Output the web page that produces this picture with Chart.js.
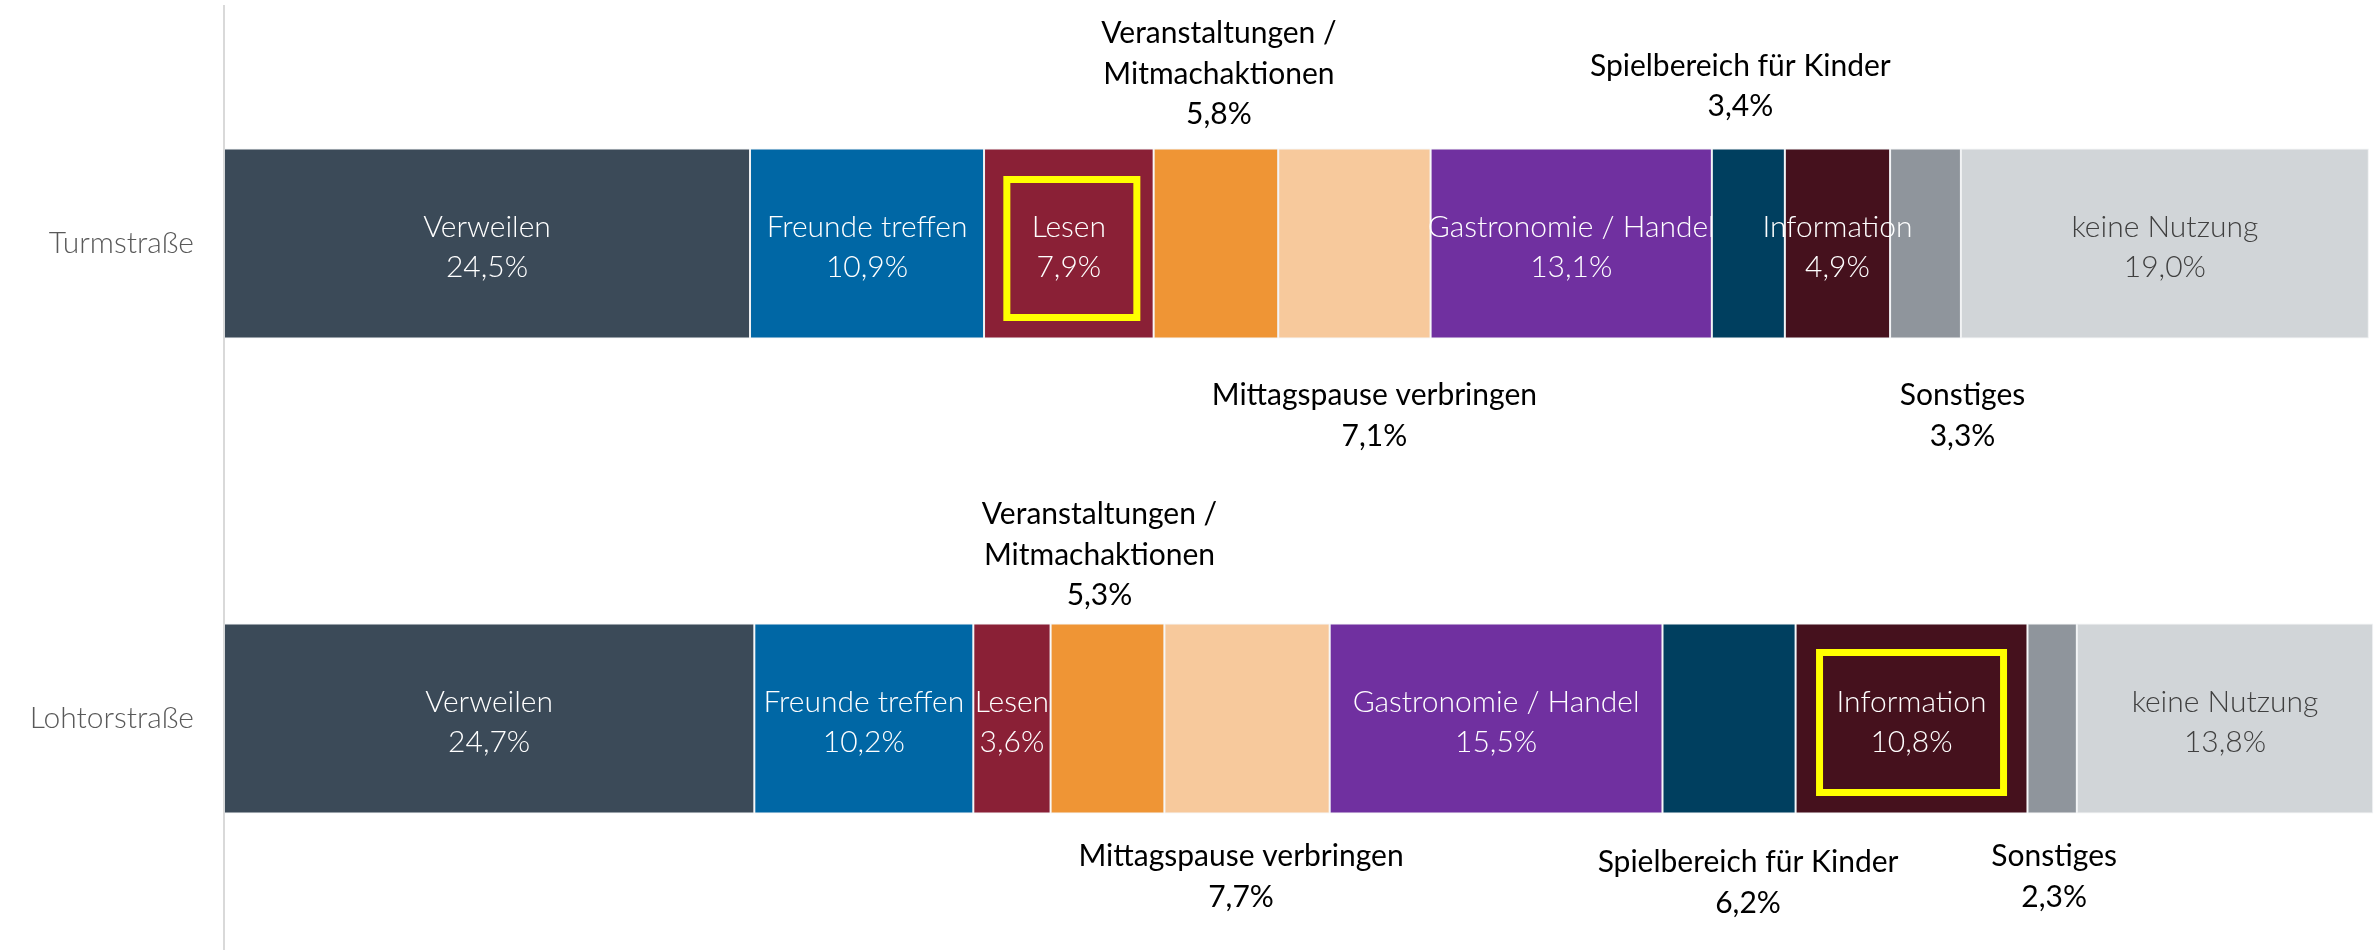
<!DOCTYPE html>
<html>
<head>
<meta charset="utf-8">
<script src="https://cdn.jsdelivr.net/npm/chart.js@4/dist/chart.umd.min.js"></script>
<style>
  html, body { margin: 0; padding: 0; background: #ffffff; overflow: hidden; }
  #wrap { width: 2380px; height: 956px; }
</style>
</head>
<body>
<div id="wrap"><canvas id="c" width="2380" height="956"></canvas></div>
<script>
// ---- data ----
const categories = ['Turmstraße', 'Lohtorstraße'];
const seriesNames = [
  'Verweilen',
  'Freunde treffen',
  'Lesen',
  'Veranstaltungen / Mitmachaktionen',
  'Mittagspause verbringen',
  'Gastronomie / Handel',
  'Spielbereich für Kinder',
  'Information',
  'Sonstiges',
  'keine Nutzung'
];
const turmstrasse  = [24.5, 10.9, 7.9, 5.8, 7.1, 13.1, 3.4, 4.9, 3.3, 19.0];
const lohtorstrasse = [24.7, 10.2, 3.6, 5.3, 7.7, 15.5, 6.2, 10.8, 2.3, 13.8];

// ---- styles ----
const seriesColors = ['#3B4A58', '#0067A5', '#8A2036', '#EF9535', '#F7C99C',
                      '#7030A0', '#003F5F', '#45111D', '#8F959C', '#D1D5D8'];
const insideTextColors = ['#ffffff', '#ffffff', '#ffffff', '#ffffff', '#ffffff',
                          '#ffffff', '#ffffff', '#ffffff', '#ffffff', '#404040'];
// label placement per category (index) per series: [mode, dx, gap]
const placementTurm = [
  ['in', 0, 0], ['in', 0, 0], ['in', 0, 0], ['above', 3, 38], ['below', 20, 53],
  ['in', 0, 0], ['above', -8, 46], ['in', 0, 0], ['below', 37, 53], ['in', 0, 0]
];
const placementLoht = [
  ['in', 0, 0], ['in', 0, 0], ['in', 0, 0], ['above', -8, 32], ['below', -6, 39],
  ['in', 0, 0], ['below', 19, 45], ['in', 0, 0], ['below', 2, 39], ['in', 0, 0]
];
const placements = [placementTurm, placementLoht];
const highlights = [
  { series: 2, cat: 0, w: 130, h: 138, dx: 3, dy: 5 },
  { series: 7, cat: 1, w: 184, h: 140, dx: 0, dy: 4 }
];

const FONT = 'Lato';
const FONT_SIZE = 30;
const LINE_H = 40.5;
const TEXT_DY = 4;

function fmt(v) { return v.toFixed(1).replace('.', ',') + '%'; }
function nameLines(name, mode) {
  if (mode !== 'in' && name.indexOf(' / ') > 0 && name.length > 25) {
    const p = name.split(' / ');
    return [p[0] + ' /', p[1]];
  }
  return [name];
}

const catValues = [turmstrasse, lohtorstrasse];
const datasets = seriesNames.map((name, i) => ({
  label: name,
  data: catValues.map(arr => arr[i]),
  backgroundColor: seriesColors[i],
  borderColor: 'rgba(210,215,220,0.35)',
  borderWidth: 1,
  borderSkipped: false,
  barPercentage: 1.0,
  categoryPercentage: 0.4,
  clip: false
}));

const labelPlugin = {
  id: 'segLabels',
  afterDatasetsDraw(chart) {
    const ctx = chart.ctx;
    ctx.save();
    highlights.forEach(h => {
      const el = chart.getDatasetMeta(h.series).data[h.cat];
      const cx = (el.x + el.base) / 2 + h.dx, cy = el.y + h.dy;
      ctx.strokeStyle = '#FFFF00';
      ctx.lineWidth = 7;
      ctx.strokeRect(cx - h.w / 2, cy - h.h / 2, h.w, h.h);
    });
    ctx.textAlign = 'center';
    ctx.textBaseline = 'middle';
    seriesNames.forEach((name, si) => {
      const meta = chart.getDatasetMeta(si);
      meta.data.forEach((el, ci) => {
        const [mode, dx, gap] = placements[ci][si];
        const v = catValues[ci][si];
        const lines = nameLines(name, mode).concat([fmt(v)]);
        const cx = (el.x + el.base) / 2 + dx;
        const top = el.y - el.height / 2, bottom = el.y + el.height / 2;
        let y0;
        if (mode === 'in') {
          y0 = el.y - (lines.length - 1) * LINE_H / 2;
          ctx.fillStyle = insideTextColors[si];
          ctx.font = '300 ' + FONT_SIZE + 'px ' + FONT;
        } else if (mode === 'above') {
          y0 = top - gap - (lines.length - 1) * LINE_H;
          ctx.fillStyle = '#000000';
          ctx.font = '400 ' + FONT_SIZE + 'px ' + FONT;
        } else {
          y0 = bottom + gap;
          ctx.fillStyle = '#000000';
          ctx.font = '400 ' + FONT_SIZE + 'px ' + FONT;
        }
        lines.forEach((t, k) => ctx.fillText(t, cx, y0 + k * LINE_H + TEXT_DY));
      });
    });
    ctx.restore();
  }
};

new Chart(document.getElementById('c'), {
  type: 'bar',
  data: { labels: categories, datasets },
  options: {
    indexAxis: 'y',
    responsive: false,
    animation: false,
    layout: { padding: { top: 6, right: 9, bottom: 0, left: 0 } },
    plugins: { legend: { display: false }, tooltip: { enabled: false } },
    scales: {
      x: { stacked: true, min: 0, max: 100, display: false },
      y: {
        stacked: true,
        grid: { display: false, drawTicks: false },
        border: { display: true, color: '#D9D9D9', width: 2 },
        ticks: { font: { family: FONT, size: FONT_SIZE, weight: '300' }, color: '#595959', padding: 30 },
        afterFit(scale) {
          scale.width = 224;
          scale.paddingTop = 0;
          scale.paddingBottom = 0;
        }
      }
    }
  },
  plugins: [labelPlugin]
});
</script>
</body>
</html>
